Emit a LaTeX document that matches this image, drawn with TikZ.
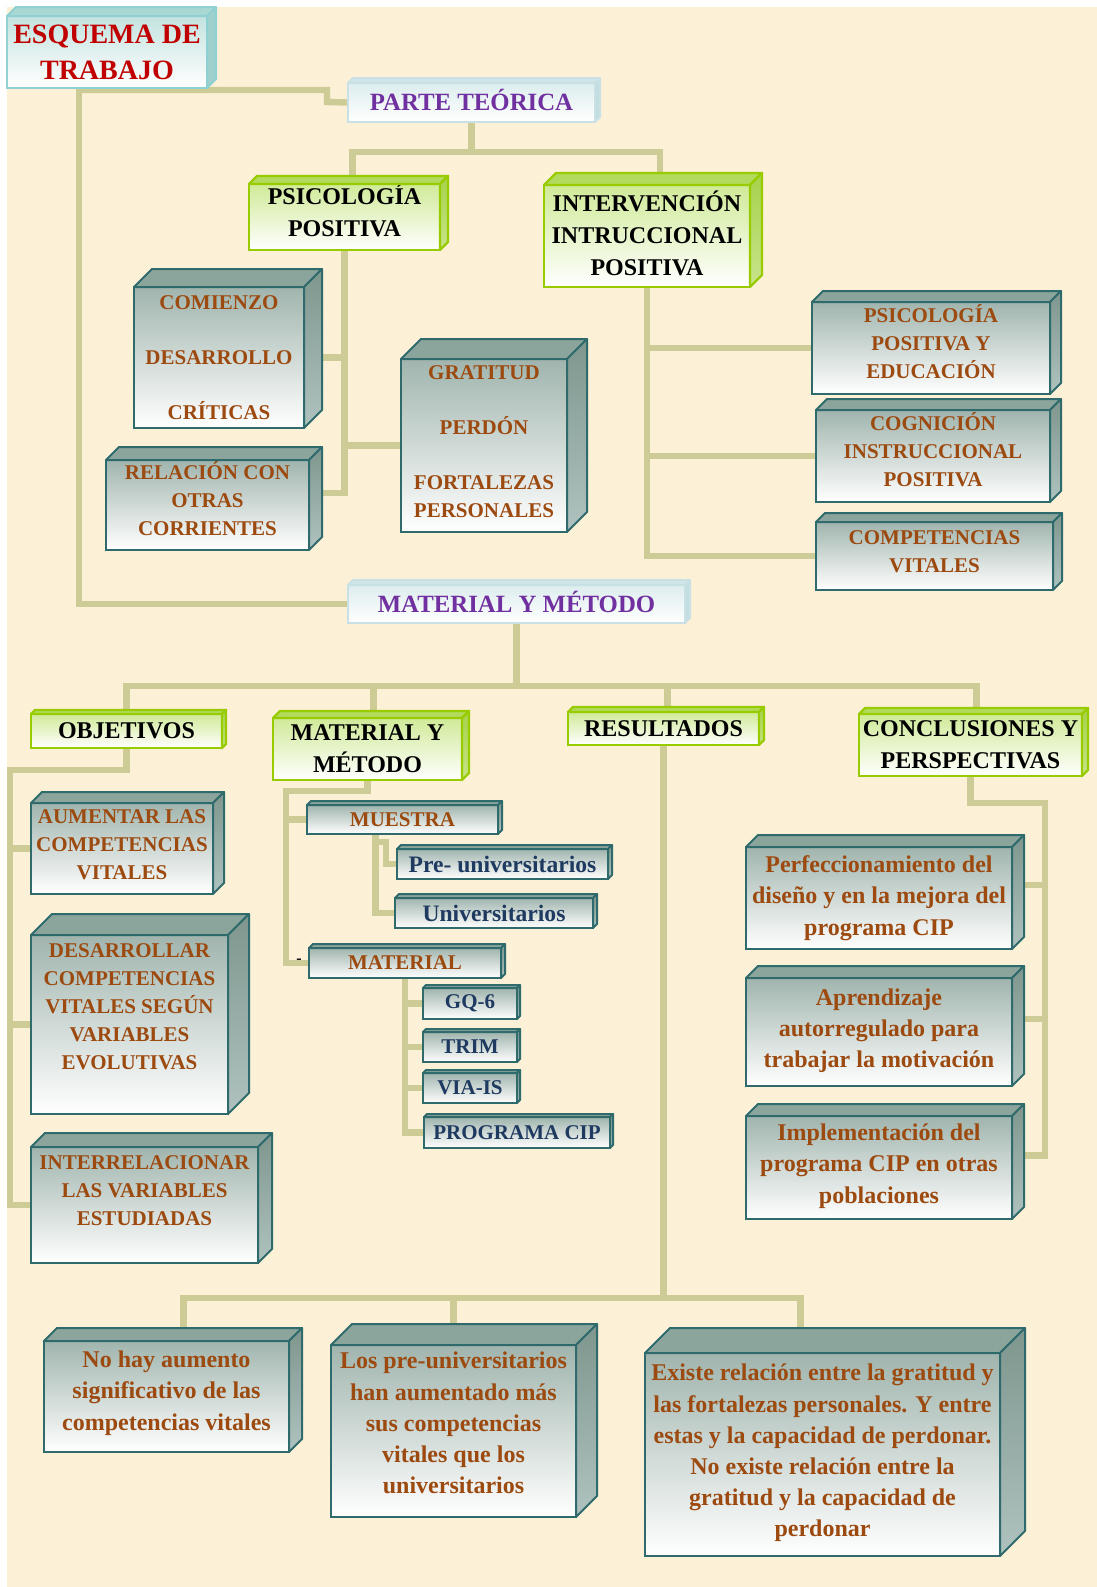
\documentclass[tikz,border=0pt]{standalone}
\usepackage{fontspec}
\setmainfont{Liberation Serif}
\usetikzlibrary{calc}

\pgfdeclarelayer{back}
\pgfdeclarelayer{wires}
\pgfsetlayers{back,wires,main}

\definecolor{cream}{HTML}{FCF0D7}
\definecolor{wire}{HTML}{CDCB96}
\definecolor{tealedge}{HTML}{2F6B6C}
\definecolor{tealfront}{HTML}{93AAA2}
\definecolor{tealtop}{HTML}{8CA59C}
\definecolor{tealsideA}{HTML}{7E968E}
\definecolor{tealsideB}{HTML}{AFC2BF}
\definecolor{brownink}{HTML}{9C4A10}
\definecolor{navyink}{HTML}{1F3A60}
\definecolor{greenedge}{HTML}{99CC00}
\definecolor{greenfront}{HTML}{D0EA98}
\definecolor{greentop}{HTML}{B2DA5C}
\definecolor{greensideA}{HTML}{A6D24A}
\definecolor{greensideB}{HTML}{C8E48C}
\definecolor{paleedge}{HTML}{C9E1E4}
\definecolor{palefront}{HTML}{DDEDEE}
\definecolor{paletop}{HTML}{CFE5E7}
\definecolor{paleside}{HTML}{C3DEE0}
\definecolor{titleedge}{HTML}{8FD0D3}
\definecolor{titlefront}{HTML}{C3E3DF}
\definecolor{titletop}{HTML}{A9D7D3}
\definecolor{titleside}{HTML}{9FD0CD}
\definecolor{purpleink}{HTML}{7030A0}
\definecolor{redink}{HTML}{C00000}

\tikzset{
  x=0.5pt, y=-0.5pt,
  link/.style={wire, line width=3.2pt},
  face/.style={inner sep=0pt, outer sep=0pt, align=center},
  % teal cuboids
  tbox/.style={face, draw=tealedge, line width=1pt, top color=tealfront!88!white,
    middle color=tealfront!22!white, bottom color=white, text=brownink},
  tbox top/.style={draw=tealedge, line width=1pt, fill=tealtop, line join=round},
  tbox side/.style={draw=tealedge, line width=1pt, top color=tealsideA,
    bottom color=tealsideB, line join=round},
  % green cuboids
  gbox/.style={face, draw=greenedge, line width=1.2pt, top color=greenfront,
    middle color=greenfront!30!white, bottom color=white, text=black},
  gbox top/.style={draw=greenedge, line width=1.2pt, fill=greentop, line join=round},
  gbox side/.style={draw=greenedge, line width=1.2pt, top color=greensideA,
    bottom color=greensideB, line join=round},
  % pale section headers
  pbox/.style={face, draw=paleedge, line width=1pt, top color=palefront,
    bottom color=white, text=purpleink},
  pbox top/.style={draw=paleedge, line width=1pt, fill=paletop, line join=round},
  pbox side/.style={draw=paleedge, line width=1pt, fill=paleside, line join=round},
  % title block
  hbox/.style={face, draw=titleedge, line width=1pt, top color=titlefront,
    bottom color=white, text=redink},
  hbox top/.style={draw=titleedge, line width=1pt, fill=titletop, line join=round},
  hbox side/.style={draw=titleedge, line width=1pt, fill=titleside, line join=round},
  % type sizes
  fcap/.style={font=\bfseries\fontsize{10.5}{14}\selectfont},
  flow/.style={font=\bfseries\fontsize{12}{15.6}\selectfont},
  fhead/.style={font=\bfseries\fontsize{12}{16}\selectfont},
  fsect/.style={font=\bfseries\fontsize{12.4}{16}\selectfont},
  ftitle/.style={font=\bfseries\fontsize{14}{18}\selectfont},
  fnavy/.style={font=\bfseries\fontsize{10.5}{14}\selectfont, text=navyink},
  fnavyL/.style={font=\bfseries\fontsize{11.8}{14}\selectfont, text=navyink},
}

% #1 kind, #2 type style, #3 name, #4..#7 left top right bottom, #8 depth, #9 text
\newcommand{\cuboid}[9]{%
  \node[#1, #2, minimum width={(#6-#4)*0.5pt}, minimum height={(#7-#5)*0.5pt}]
    (#3) at ({(#4+#6)/2},{(#5+#7)/2}) {#9};
  \path[#1 top] (#3.north west) -- ++(#8,-#8) -- ([shift={(#8,-#8)}]#3.north east)
    -- (#3.north east) -- cycle;
  \path[#1 side] (#3.north east) -- ([shift={(#8,-#8)}]#3.north east)
    -- ([shift={(#8,-#8)}]#3.south east) -- (#3.south east) -- cycle;
}
% accented capital whose accent does not push the line down
\newcommand{\acc}[1]{\smash{#1}}
% empty closing lines that raise a block of text inside its box by about 2pt
\newcommand{\liftc}{\\[-10pt]\mbox{}}
\newcommand{\liftl}{\\[-11.6pt]\mbox{}}
\newcommand{\liftg}{\\[-12pt]\mbox{}}

\begin{document}
\begin{tikzpicture}
\useasboundingbox (0,0) rectangle (1097,1587);
\begin{pgfonlayer}{back}
  \fill[white] (0,0) rectangle (1097,1587);
  \fill[cream] (7,7) rectangle (1097,1587);
\end{pgfonlayer}

% ---------- title and theory part ----------
\cuboid{hbox}{ftitle}{title}{7}{16}{207}{88}{9}{ESQUEMA DE\\TRABAJO}
\cuboid{pbox}{fsect}{ptheo}{348}{83}{595}{122}{5}{PARTE TE\acc{Ó}RICA}
\cuboid{gbox}{fhead}{psico}{249}{184}{440}{250}{8}{PSICOLOG\acc{Í}A\\POSITIVA\liftg}
\cuboid{gbox}{fhead}{interv}{544}{185}{750}{287}{12}{INTERVENCI\acc{Ó}N\\INTRUCCIONAL\\POSITIVA}

\cuboid{tbox}{fcap}{comienzo}{134}{287}{304}{428}{18}{COMIENZO\\[13.5pt]DESARROLLO\\[13.5pt]CRÍTICAS}
\cuboid{tbox}{fcap}{relac}{106}{460}{309}{550}{13}{RELACI\acc{Ó}N CON\\OTRAS\\CORRIENTES\liftc}
\cuboid{tbox}{fcap}{grat}{401}{359}{567}{532}{20}{GRATITUD\\[13.5pt]PERDÓN\\[13.5pt]FORTALEZAS\\PERSONALES\liftc}

\cuboid{tbox}{fcap}{pse}{812}{302}{1050}{394}{11}{PSICOLOG\acc{Í}A\\POSITIVA Y\\EDUCACIÓN\liftc}
\cuboid{tbox}{fcap}{cog}{816}{410}{1050}{502}{11}{COGNICI\acc{Ó}N\\INSTRUCCIONAL\\POSITIVA\liftc}
\cuboid{tbox}{fcap}{comp}{816}{522}{1053}{590}{9}{COMPETENCIAS\\VITALES\liftc}

% ---------- material and method part ----------
\cuboid{pbox}{fsect}{mm}{348}{585}{685}{623}{5}{MATERIAL Y M\acc{É}TODO}
\cuboid{gbox}{fhead}{obj}{31}{714}{222}{748}{4}{OBJETIVOS}
\cuboid{gbox}{fhead}{mat}{273}{718}{462}{780}{7}{MATERIAL Y\\MÉTODO}
\cuboid{gbox}{fhead}{res}{568}{712}{759}{745}{5}{RESULTADOS}
\cuboid{gbox}{fhead}{conc}{859}{714}{1082}{776}{6}{CONCLUSIONES Y\\PERSPECTIVAS}

\cuboid{tbox}{fcap}{aum}{31}{803}{213}{894}{11}{AUMENTAR LAS\\COMPETENCIAS\\VITALES\liftc}
\cuboid{tbox}{fcap}{des}{31}{935}{228}{1114}{21}{DESARROLLAR\\COMPETENCIAS\\VITALES SEGÚN\\VARIABLES\\EVOLUTIVAS\\[4pt]\mbox{}}
\cuboid{tbox}{fcap}{inter}{31}{1147}{258}{1263}{14}{INTERRELACIONAR\\LAS VARIABLES\\ESTUDIADAS\\\mbox{}}

\cuboid{tbox}{fcap}{muestra}{307}{805}{498}{834}{4}{MUESTRA}
\cuboid{tbox}{fnavyL}{pre}{397}{849}{608}{879}{4}{Pre- universitarios}
\cuboid{tbox}{fnavyL}{uni}{395}{898}{593}{928}{4}{Universitarios}
\cuboid{tbox}{fcap}{matl}{309}{948}{501}{978}{4}{MATERIAL}
\node[font=\bfseries\fontsize{8}{8}\selectfont, inner sep=0pt] (dash) at (299,961) {-};
\cuboid{tbox}{fnavy}{gq}{423}{988}{517}{1019}{3}{GQ-6}
\cuboid{tbox}{fnavy}{trim}{423}{1032}{517}{1062}{3}{TRIM}
\cuboid{tbox}{fnavy}{via}{423}{1073}{517}{1103}{3}{VIA-IS}
\cuboid{tbox}{fnavy}{cip}{424}{1117}{610}{1148}{3}{PROGRAMA CIP}

\cuboid{tbox}{flow}{perf}{746}{847}{1012}{949}{12}{Perfeccionamiento del\\diseño y en la mejora del\\programa CIP}
\cuboid{tbox}{flow}{apr}{746}{978}{1012}{1086}{12}{Aprendizaje\\autorregulado para\\trabajar la motivación\liftl}
\cuboid{tbox}{flow}{impl}{746}{1116}{1012}{1219}{12}{Implementación del\\programa CIP en otras\\poblaciones\liftl}

\cuboid{tbox}{flow}{nohay}{44}{1341}{289}{1452}{13}{No hay aumento\\significativo de las\\competencias vitales\\[-9.6pt]\mbox{}}
\cuboid{tbox}{flow}{lospre}{331}{1345}{576}{1517}{21}{Los pre-universitarios\\han aumentado más\\sus competencias\\vitales que los\\universitarios\\[-7.6pt]\mbox{}}
\cuboid{tbox}{flow}{existe}{645}{1353}{1000}{1556}{25}{Existe relación entre la gratitud y\\las fortalezas personales. Y entre\\estas y la capacidad de perdonar.\\No existe relación entre la\\gratitud y la capacidad de\\perdonar\liftl}

% ---------- connectors ----------
\begin{pgfonlayer}{wires}
  % title to both parts
  \draw[link] (title.south -| 79,0) |- (mm.west);
  \coordinate (tj) at (79,90);
  \draw[link] (tj) -| (327,102) -- (ptheo.west);
  % theory part
  \coordinate (pbus) at (ptheo.south |- 0,152);
  \draw[link] (ptheo.south) -- (pbus);
  \draw[link] (pbus) -| ([xshift=4pt]psico.north);
  \draw[link] (pbus) -| ([xshift=6.5pt]interv.north);
  \draw[link] (psico.south) |- ([yshift=6pt]relac.east);
  \draw[link] (psico.south |- comienzo.east) -- (comienzo.east);
  \draw[link] (psico.south |- grat.west) -- (grat.west);
  \draw[link] (interv.south) |- (comp.west);
  \draw[link] (interv.south |- pse.west) -- (pse.west);
  \draw[link] (interv.south |- cog.west) -- (cog.west);
  % method part
  \coordinate (mbus) at (mm.south |- 0,686);
  \draw[link] (mm.south) -- (mbus);
  \draw[link] (mbus) -| (obj.north);
  \draw[link] (mbus) -| ([xshift=3pt]mat.north);
  \draw[link] (mbus) -| ([xshift=2pt]res.north);
  \draw[link] (mbus) -| ([xshift=3pt]conc.north);
  % objectives
  \draw[link] (obj.south) |- (10,770) |- (inter.west);
  \draw[link] (aum.west -| 10,0) -- (aum.west);
  \draw[link] (des.west -| 10,0) -- (des.west);
  % sample and material
  \draw[link] (mat.south) |- (286,791) |- (matl.west);
  \draw[link] (muestra.west -| 286,0) -- (muestra.west);
  \coordinate (mtrunk) at ([xshift=-13.5pt]muestra.south);
  \draw[link] (mtrunk) |- (uni.west);
  \draw[link] (mtrunk |- 0,842) -| (386,864) -- (pre.west);
  \draw[link] (matl.south) |- (cip.west);
  \draw[link] (matl.south |- gq.west) -- (gq.west);
  \draw[link] (matl.south |- trim.west) -- (trim.west);
  \draw[link] (matl.south |- via.west) -- (via.west);
  % results
  \coordinate (rbus) at (res.south |- 0,1298);
  \draw[link] (res.south) -- (rbus);
  \draw[link] (rbus) -| ([xshift=8.5pt]nohay.north);
  \draw[link] (rbus) -| (lospre.north);
  \draw[link] (rbus) -| ([xshift=-11pt]existe.north);
  % conclusions
  \draw[link] (conc.south) |- (1045,803) |- ([yshift=6pt]impl.east);
  \draw[link] ([yshift=6.5pt]perf.east) -| (1045,803);
  \draw[link] ([yshift=6.5pt]apr.east) -- ++(33,0);
\end{pgfonlayer}
\end{tikzpicture}
\end{document}
